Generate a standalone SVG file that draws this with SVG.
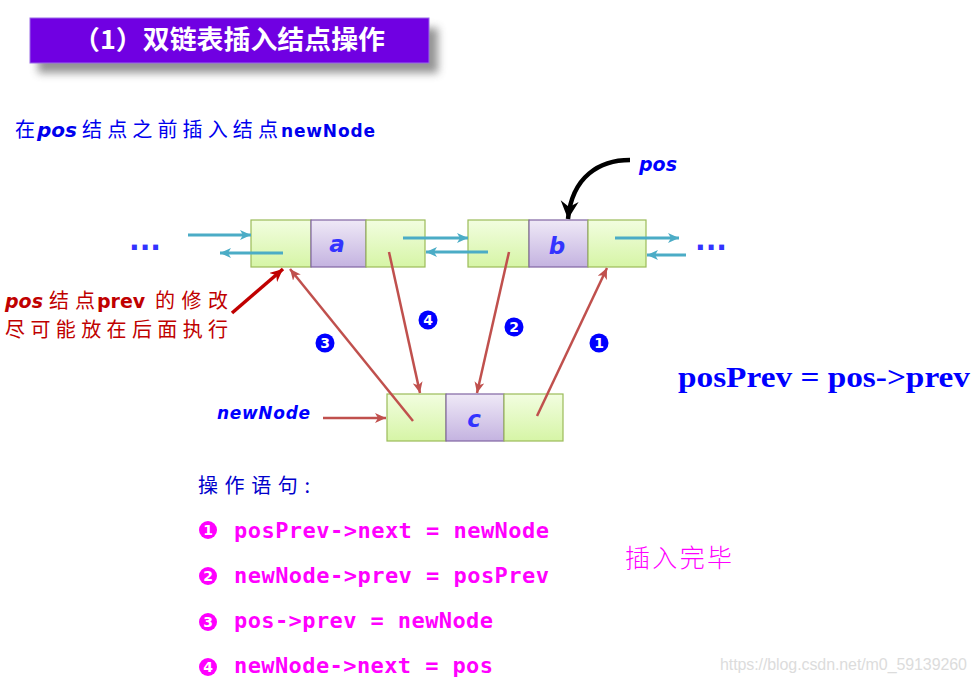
<svg xmlns="http://www.w3.org/2000/svg" width="977" height="683" viewBox="0 0 977 683">
<style>
.cjk{font-family:"Noto Sans CJK SC","Noto Sans",sans-serif}
.lat{font-family:"DejaVu Sans","Noto Sans CJK SC",sans-serif;font-weight:bold}
.cy{stroke:#4bacc6;stroke-width:3;fill:none}
.rd{stroke:#c0504d;stroke-width:2.5;fill:none}
.cell{fill:url(#gGreen);stroke:#9bbb59;stroke-width:1.2}
.mid{fill:url(#gPurple);stroke:#8064a2;stroke-width:1.2}
.lbl{font-family:"DejaVu Sans",sans-serif;font-style:italic;font-weight:bold;font-size:23px;fill:#3333ff;text-anchor:middle}
.bb{fill:#0000ff}
.bt{font-family:"DejaVu Sans",sans-serif;font-weight:bold;font-size:14px;fill:#fff;text-anchor:middle}
.mb{fill:#ff00ff}
.code{font-family:"DejaVu Sans Mono","Liberation Mono",monospace;font-weight:bold;font-size:22px;fill:#ff00ff}
</style>
<defs>
<linearGradient id="gGreen" x1="0" y1="0" x2="0" y2="1"><stop offset="0" stop-color="#f2fde0"/><stop offset="1" stop-color="#d6f5a6"/></linearGradient>
<linearGradient id="gPurple" x1="0" y1="0" x2="0" y2="1"><stop offset="0" stop-color="#efe9f7"/><stop offset="1" stop-color="#c4b3e0"/></linearGradient>
<filter id="sh" x="-10%" y="-40%" width="125%" height="200%"><feGaussianBlur stdDeviation="4"/></filter>
<marker id="mc" markerUnits="userSpaceOnUse" markerWidth="12" markerHeight="10" refX="11" refY="5" orient="auto"><path d="M0,0 L11,5 L0,10 L3,5 Z" fill="#4bacc6"/></marker>
<marker id="mr" markerUnits="userSpaceOnUse" markerWidth="12" markerHeight="10" refX="11" refY="5" orient="auto"><path d="M0,0 L11,5 L0,10 L3,5 Z" fill="#c0504d"/></marker>
<marker id="md" markerUnits="userSpaceOnUse" markerWidth="14" markerHeight="12" refX="13" refY="6" orient="auto"><path d="M0,0 L13,6 L0,12 L4,6 Z" fill="#c00000"/></marker>
<marker id="mk" markerUnits="userSpaceOnUse" markerWidth="20" markerHeight="20" refX="18" refY="10" orient="auto"><path d="M0,1 L18,10 L0,19 L6,10 Z" fill="#000"/></marker>
</defs>
<rect width="977" height="683" fill="#fff"/>

<g id="title">
<rect x="38" y="28" width="400" height="45" fill="#888" filter="url(#sh)" opacity="0.9"/>
<rect x="30" y="18" width="399" height="45" fill="#7000e2" stroke="#9a6ae8" stroke-width="1"/>
<text x="73" y="49" class="cjk" font-size="26" font-weight="bold" fill="#fff" textLength="312" lengthAdjust="spacingAndGlyphs">（1）双链表插入结点操作</text>
</g>

<g id="subtitle">
<text y="137" fill="#0000ee" font-size="20">
<tspan x="15" class="cjk">在</tspan><tspan x="37" class="lat" font-style="italic" font-size="20">pos</tspan><tspan x="82" class="cjk" textLength="196" lengthAdjust="spacing">结点之前插入结点</tspan><tspan x="281" class="lat" font-size="17" textLength="94">newNode</tspan>
</text>
</g>

<g id="dotsL"><text x="129" y="250" font-family="DejaVu Sans" font-weight="bold" font-size="28" fill="#3333ff">...</text></g>
<g id="dotsR"><text x="695" y="250" font-family="DejaVu Sans" font-weight="bold" font-size="28" fill="#3333ff">...</text></g>

<g id="nodeA">
<rect class="cell" x="251" y="220" width="60" height="47"/>
<rect class="mid" x="311" y="220" width="55" height="47"/>
<rect class="cell" x="366" y="220" width="59" height="47"/>
<text class="lbl" x="337" y="252">a</text>
</g>
<g id="nodeB">
<rect class="cell" x="468" y="220" width="61" height="47"/>
<rect class="mid" x="529" y="220" width="59" height="47"/>
<rect class="cell" x="588" y="220" width="58" height="47"/>
<text class="lbl" x="557" y="254">b</text>
</g>
<g id="nodeC">
<rect class="cell" x="387" y="394" width="59" height="47"/>
<rect class="mid" x="446" y="394" width="58" height="47"/>
<rect class="cell" x="504" y="394" width="59" height="47"/>
<text class="lbl" x="474" y="427">c</text>
</g>

<g id="connectors">
<line class="cy" x1="188" y1="235" x2="251" y2="235" marker-end="url(#mc)"/>
<line class="cy" x1="283" y1="253" x2="220" y2="253" marker-end="url(#mc)"/>
<line class="cy" x1="403" y1="238" x2="468" y2="238" marker-end="url(#mc)"/>
<line class="cy" x1="488" y1="252" x2="426" y2="252" marker-end="url(#mc)"/>
<line class="cy" x1="615" y1="238" x2="679" y2="238" marker-end="url(#mc)"/>
<line class="cy" x1="686" y1="255" x2="647" y2="255" marker-end="url(#mc)"/>
<line class="rd" x1="413" y1="421" x2="290" y2="269" marker-end="url(#mr)"/>
<line class="rd" x1="389" y1="252" x2="420" y2="393" marker-end="url(#mr)"/>
<line class="rd" x1="509" y1="252" x2="477" y2="393" marker-end="url(#mr)"/>
<line class="rd" x1="537" y1="416" x2="607" y2="268" marker-end="url(#mr)"/>
<line class="rd" x1="323" y1="418" x2="386" y2="418" marker-end="url(#mr)"/>
<line stroke="#c00000" stroke-width="3.5" x1="232" y1="313" x2="283" y2="269" marker-end="url(#md)"/>
<path d="M630,160 C600,160 572,176 568,219" stroke="#000" stroke-width="4.5" fill="none" marker-end="url(#mk)"/>
</g>

<g id="posLabel"><text x="639" y="171" class="lat" font-style="italic" font-size="19" fill="#0000ff">pos</text></g>
<g id="newNodeLabel"><text x="217" y="419" class="lat" font-style="italic" font-size="17" fill="#0000ff" textLength="93">newNode</text></g>

<g id="note" fill="#c00000">
<text y="308" font-size="20"><tspan x="5" class="lat" font-style="italic" font-size="19">pos</tspan><tspan x="49" class="cjk" textLength="46" lengthAdjust="spacing">结 点</tspan><tspan x="97" class="lat" font-size="19">prev</tspan><tspan x="155" class="cjk" textLength="73" lengthAdjust="spacing">的修改</tspan></text>
<text x="5" y="337" class="cjk" font-size="20" textLength="223" lengthAdjust="spacing">尽可能放在后面执行</text>
</g>

<g id="badges">
<circle class="bb" cx="325" cy="343" r="9.5"/><text class="bt" x="325" y="348">3</text>
<circle class="bb" cx="428" cy="320" r="9.5"/><text class="bt" x="428" y="325">4</text>
<circle class="bb" cx="514" cy="327" r="9.5"/><text class="bt" x="514" y="332">2</text>
<circle class="bb" cx="599" cy="343" r="9.5"/><text class="bt" x="599" y="348">1</text>
</g>

<g id="formula"><text x="678" y="387" font-family="Liberation Serif,serif" font-weight="bold" font-size="29" fill="#0000ff" textLength="292" lengthAdjust="spacingAndGlyphs">posPrev = pos-&gt;prev</text></g>

<g id="ops">
<text x="198" y="493" class="cjk" font-size="20" fill="#0000cc" textLength="112" lengthAdjust="spacing">操作语句:</text>
<circle class="mb" cx="208" cy="530" r="9"/><text class="bt" x="208" y="535">1</text>
<text class="code" x="234" y="538" textLength="315">posPrev-&gt;next = newNode</text>
<circle class="mb" cx="208" cy="576" r="9"/><text class="bt" x="208" y="581">2</text>
<text class="code" x="234" y="583" textLength="315">newNode-&gt;prev = posPrev</text>
<circle class="mb" cx="208" cy="622" r="9"/><text class="bt" x="208" y="627">3</text>
<text class="code" x="234" y="628" textLength="259">pos-&gt;prev = newNode</text>
<circle class="mb" cx="208" cy="667" r="9"/><text class="bt" x="208" y="672">4</text>
<text class="code" x="234" y="673" textLength="259">newNode-&gt;next = pos</text>
</g>

<g id="done"><text x="625" y="567" class="cjk" font-size="25" font-weight="300" fill="#ff00ff" textLength="107" lengthAdjust="spacing">插入完毕</text></g>
<g id="watermark"><text x="720" y="670" font-family="Liberation Sans,sans-serif" font-size="16" fill="#dcdcdc" textLength="247">https://blog.csdn.net/m0_59139260</text></g>
</svg>
